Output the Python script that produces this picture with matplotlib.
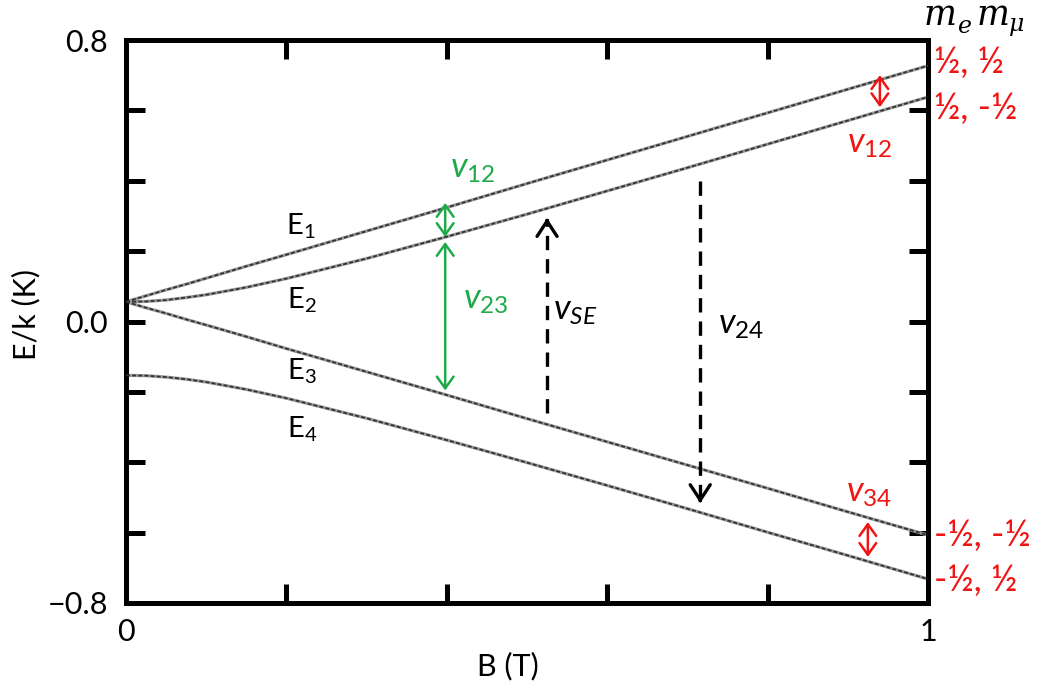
import matplotlib
matplotlib.use("Agg")
import matplotlib.pyplot as plt
import numpy as np

plt.rcParams["font.family"] = ["Lato", "DejaVu Sans"]
plt.rcParams["mathtext.fontset"] = "custom"
plt.rcParams["mathtext.rm"] = "Lato"
plt.rcParams["mathtext.it"] = "Lato:italic"
plt.rcParams["mathtext.bf"] = "Lato:bold"

# Magnetic field (T) and muonium energy levels E/k (K)
b_field = [0, 0.025, 0.05, 0.075, 0.1, 0.15, 0.2, 0.3, 0.4, 0.5, 0.6, 0.7, 0.8, 0.9, 1.0]
e1 = [0.056, 0.073, 0.090, 0.106, 0.123, 0.157, 0.190, 0.257, 0.324, 0.392,
      0.459, 0.526, 0.593, 0.660, 0.727]
e2 = [0.056, 0.057, 0.061, 0.068, 0.076, 0.097, 0.122, 0.179, 0.241, 0.305,
      0.371, 0.437, 0.504, 0.571, 0.638]
e3 = [0.056, 0.039, 0.023, 0.006, -0.010, -0.043, -0.077, -0.143, -0.209, -0.276,
      -0.342, -0.408, -0.474, -0.541, -0.607]
e4 = [-0.153, -0.154, -0.158, -0.164, -0.172, -0.193, -0.218, -0.275, -0.337, -0.401,
      -0.466, -0.532, -0.599, -0.665, -0.732]

level_names = ["E$_1$", "E$_2$", "E$_3$", "E$_4$"]
spin_states = ["½, ½", "½, -½", "-½, -½", "-½, ½"]
x_ticks = [0, 0.2, 0.4, 0.6, 0.8, 1.0]
x_ticklabels = ["0", "", "", "", "", "1"]
y_ticks = [-0.8, -0.6, -0.4, -0.2, 0.0, 0.2, 0.4, 0.6, 0.8]
y_ticklabels = ["\u22120.8", "", "", "", "0.0", "", "", "", "0.8"]

W, H = 1041, 691
fig = plt.figure(figsize=(W / 100, H / 100), dpi=100)
ax = fig.add_axes([126 / W, 1 - 603 / H, 802 / W, 563 / H])


def fx(px):
    return px / W


def fy(py):
    return 1 - py / H


GREEN = "#1faa4a"
RED = "#f01414"

# energy level curves: grey core with darker grainy overlay
for e in (e1, e2, e3, e4):
    ax.plot(b_field, e, color="#9a9a9a", lw=2.3, solid_capstyle="butt", zorder=2)
    ax.plot(b_field, e, color="#333333", lw=1.3, dashes=(2.2, 1.2), zorder=3)

ax.set_xlim(0, 1)
ax.set_ylim(-0.8, 0.8)
ax.set_xticks(x_ticks)
ax.set_xticklabels(x_ticklabels)
ax.set_yticks(y_ticks)
ax.set_yticklabels(y_ticklabels)
ax.tick_params(direction="in", length=13.7, width=3.6, top=True, right=True,
               labelsize=22, color="black")
ax.tick_params(axis="y", pad=13)
ax.tick_params(axis="x", pad=11)
for s in ax.spines.values():
    s.set_linewidth(3.6)
    s.set_capstyle("projecting")

fig.text(fx(508), fy(666), "B (T)", fontsize=22, ha="center", va="center")
fig.text(fx(26), fy(315), "E/k (K)", fontsize=22, ha="center", va="center",
         rotation=90)

# level labels
level_pos = [(0.199, 0.246), (0.201, 0.038), (0.201, -0.166), (0.201, -0.331)]
for name, (bx, ey) in zip(level_names, level_pos):
    ax.text(bx, ey, name, fontsize=21, ha="left", va="baseline")


def double_arrow(b, top, bottom, color):
    ax.annotate("", xy=(b, top), xytext=(b, bottom),
                arrowprops=dict(arrowstyle="<->,head_length=0.42,head_width=0.3",
                                color=color, lw=1.8, shrinkA=0, shrinkB=0,
                                mutation_scale=20), zorder=4)


def dashed_arrow(b, start, tip):
    direction = np.sign(tip - start)
    ax.plot([b, b], [start, tip - direction * 0.004], color="black", lw=2.4,
            dashes=(4.3, 2.7), zorder=4)
    ax.annotate("", xy=(b, tip), xytext=(b, tip - direction * 0.01),
                arrowprops=dict(arrowstyle="->,head_length=0.55,head_width=0.36",
                                color="black", lw=2.4, shrinkA=0, shrinkB=0,
                                mutation_scale=20), zorder=4)


double_arrow(0.398, 0.337, 0.240, GREEN)
double_arrow(0.398, 0.226, -0.196, GREEN)
double_arrow(0.940, 0.700, 0.609, RED)
double_arrow(0.925, -0.570, -0.669, RED)
dashed_arrow(0.525, -0.260, 0.294)
dashed_arrow(0.716, 0.399, -0.516)

ax.text(0.404, 0.408, r"$v_{\mathrm{12}}$", fontsize=25, color=GREEN,
        ha="left", va="baseline")
ax.text(0.420, 0.038, r"$v_{\mathrm{23}}$", fontsize=25, color=GREEN,
        ha="left", va="baseline")
ax.text(0.532, 0.004, r"$v_{SE}$", fontsize=25, color="black",
        ha="left", va="baseline")
ax.text(0.738, -0.033, r"$v_{\mathrm{24}}$", fontsize=25, color="black",
        ha="left", va="baseline")
ax.text(0.899, 0.479, r"$v_{\mathrm{12}}$", fontsize=25, color=RED,
        ha="left", va="baseline")
ax.text(0.898, -0.513, r"$v_{\mathrm{34}}$", fontsize=25, color=RED,
        ha="left", va="baseline")

# spin quantum numbers at the right edge
state_baselines = [73, 119, 546, 591]
for lab, yb in zip(spin_states, state_baselines):
    fig.text(fx(934), fy(yb), lab, fontsize=26, color=RED, ha="left",
             va="baseline")

serif = ["DejaVu Serif"]
fig.text(fx(924), fy(25), "m", fontsize=25, style="italic", family=serif,
         va="baseline", ha="left")
fig.text(fx(958), fy(33), "e", fontsize=17, style="italic", family=serif,
         va="baseline", ha="left")
fig.text(fx(977), fy(25), "m", fontsize=25, style="italic", family=serif,
         va="baseline", ha="left")
fig.text(fx(1009), fy(31), "\u03bc", fontsize=17, style="italic", family=serif,
         va="baseline", ha="left")

fig.savefig("out.png", dpi=100)
